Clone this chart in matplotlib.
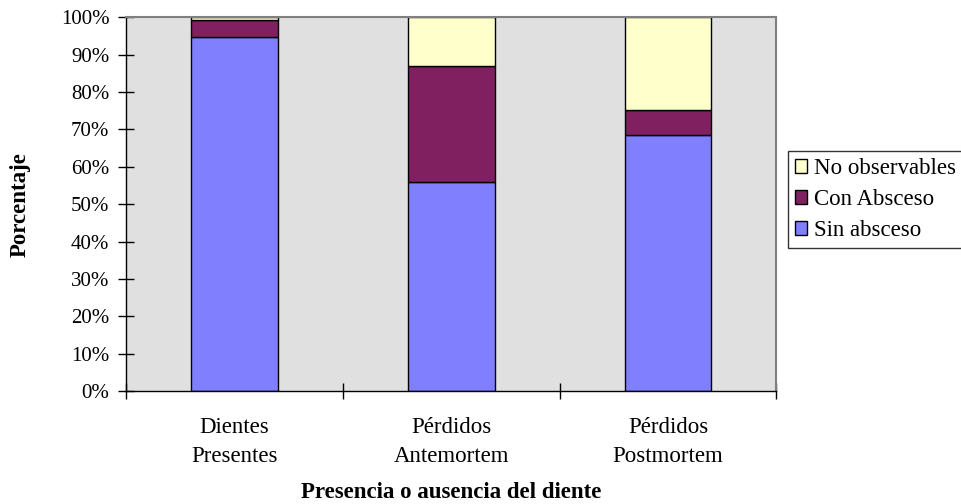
import matplotlib.pyplot as plt
from matplotlib.ticker import FixedLocator, PercentFormatter

# Data (percent)
categories = ["Dientes\nPresentes", "Pérdidos\nAntemortem", "Pérdidos\nPostmortem"]
sin_absceso = [94.6, 55.9, 68.4]
con_absceso = [4.7, 31.1, 6.9]
no_observables = [0.7, 13.0, 24.7]

plt.rcParams["font.family"] = ["Liberation Serif", "DejaVu Serif"]
plt.rcParams["font.size"] = 16.5

fig = plt.figure(figsize=(9.62, 5.04), dpi=100)
ax = fig.add_axes([0.131, 0.224, 0.676, 0.742])
ax.set_facecolor("#E0E0E0")

x = range(len(categories))
bottom2 = [a + b for a, b in zip(sin_absceso, con_absceso)]
ax.bar(x, sin_absceso, width=0.4, color="#8080FF", edgecolor="black", linewidth=1, label="Sin absceso")
ax.bar(x, con_absceso, width=0.4, bottom=sin_absceso, color="#802060", edgecolor="black", linewidth=1, label="Con Absceso")
ax.bar(x, no_observables, width=0.4, bottom=bottom2, color="#FFFFCC", edgecolor="black", linewidth=1, label="No observables")

ax.set_xlim(-0.5, 2.5)
ax.set_ylim(0, 100)
ax.set_yticks(range(0, 101, 10))
ax.yaxis.set_major_formatter(PercentFormatter(decimals=0))
ax.tick_params(axis="y", direction="inout", length=12, width=1, pad=6, labelsize=15)

ax.xaxis.set_major_locator(FixedLocator([-0.5, 0.5, 1.5, 2.5]))
ax.xaxis.set_minor_locator(FixedLocator([0, 1, 2]))
ax.set_xticklabels([])
ax.set_xticklabels(categories, minor=True, linespacing=1.44)
ax.tick_params(axis="x", which="major", direction="inout", length=12, width=1)
ax.tick_params(axis="x", which="minor", length=0, pad=19)

for s in ["top", "right"]:
    ax.spines[s].set_color("#808080")
    ax.spines[s].set_linewidth(1.5)
for s in ["left", "bottom"]:
    ax.spines[s].set_color("black")
    ax.spines[s].set_linewidth(1)

ax.set_ylabel("Porcentaje", fontweight="bold")
ax.yaxis.label.set_va("center")
ax.yaxis.set_label_coords(-0.163, 0.5)
ax.set_xlabel("Presencia o ausencia del diente", fontweight="bold")
ax.xaxis.label.set_va("center")
ax.xaxis.set_label_coords(0.5, -0.27)

handles, labels = ax.get_legend_handles_labels()
leg = fig.legend(handles[::-1], labels[::-1], loc="upper left",
                 bbox_to_anchor=(788 / 962, 1 - 151 / 504),
                 frameon=True, fancybox=False, shadow=False, borderpad=0.3,
                 handlelength=0.55, handleheight=0.55, handletextpad=0.3, labelspacing=0.45,
                 borderaxespad=0)
leg.get_frame().set_edgecolor("black")
leg.get_frame().set_linewidth(1)

plt.savefig("out.png", dpi=100)
